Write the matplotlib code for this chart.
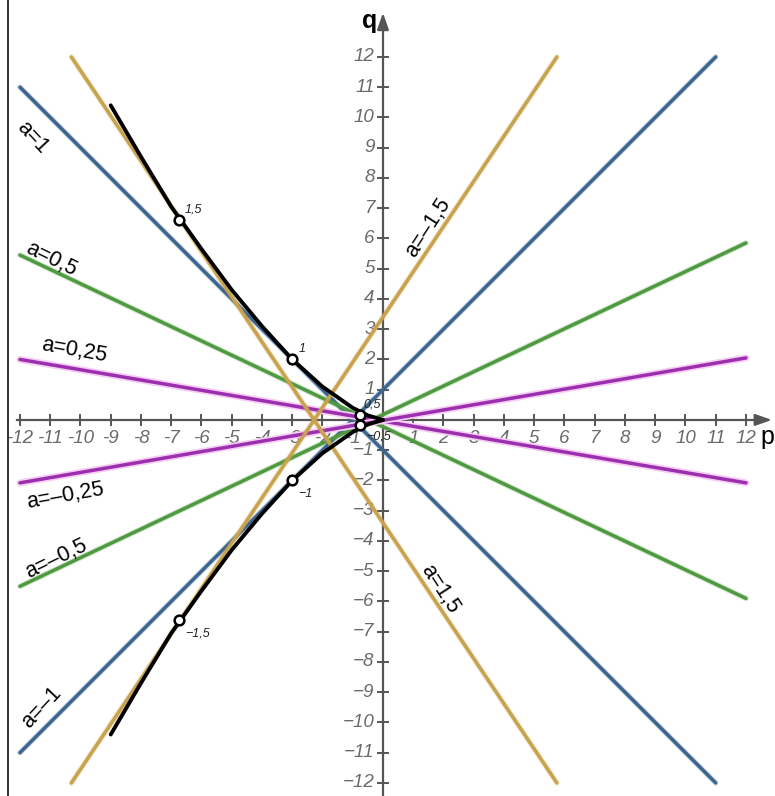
import numpy as np
import matplotlib.pyplot as plt
import matplotlib.patheffects as pe
from matplotlib.lines import Line2D

# line family: label, colour, start (p,q), end (p,q)
a_labels = ["1", "-1", "0,5", "-0,5", "0,25", "-0,25", "1,5", "-1,5"]
a_colors = ["#3c6690", "#3c6690", "#4f9a40", "#4f9a40",
            "#9b2fae", "#9b2fae", "#c9a24e", "#c9a24e"]
p_start = [-12.0, -12.0, -12.0, -12.0, -12.0, -12.0, -10.3, -10.3]
q_start = [11.0, -11.0, 5.45, -5.5, 2.0, -2.08, 12.0, -12.0]
p_end = [11.0, 11.0, 12.0, 12.0, 12.0, 12.0, 5.75, 5.75]
q_end = [-12.0, 12.0, -5.9, 5.85, -2.08, 2.05, -12.0, 12.0]

# envelope (upper branch), the lower one is its mirror
env_p = [-9.0, -8.0, -7.0, -6.0, -5.0, -4.0, -3.0, -2.0, -1.0, -0.5, 0.0]
env_q = [10.4, 8.7, 7.05, 5.65, 4.3, 3.1, 2.0, 1.1, 0.4, 0.15, 0.0]

# marked points on the envelope
mark_p = [-6.75, -3.0, -0.76, -0.76, -3.0, -6.75]
mark_q = [6.6, 2.0, 0.17, -0.17, -2.0, -6.6]
mark_txt = ["1,5", "1", "0,5", "\u22120,5", "\u22121", "\u22121,5"]

ticks = [t for t in range(-12, 13) if t != 0]

fig = plt.figure(figsize=(7.75, 7.96), dpi=100)
ax = fig.add_axes([0, 0, 1, 1])
ax.set_xlim(-12.66, 12.96)
ax.set_ylim(-12.43, 13.88)
ax.set_aspect("equal")
ax.axis("off")

font = "Liberation Sans"
axc = "#555555"

# axes with arrows
ax.plot([-12.1, 12.3], [0, 0], color=axc, lw=1.6, zorder=2)
ax.plot([0, 0], [-12.5, 12.9], color=axc, lw=1.6, zorder=2)
ax.annotate("", xy=(12.95, 0), xytext=(12.2, 0),
            arrowprops=dict(arrowstyle="-|>,head_width=0.35,head_length=1.0",
                            color=axc, lw=1.6), zorder=2)
ax.annotate("", xy=(0, 13.55), xytext=(0, 12.8),
            arrowprops=dict(arrowstyle="-|>,head_width=0.35,head_length=1.0",
                            color=axc, lw=1.6), zorder=2)
for t in ticks:
    ax.plot([t, t], [-0.17, 0.17], color=axc, lw=1.4, zorder=2)
    ax.plot([-0.17, 0.17], [t, t], color=axc, lw=1.4, zorder=2)
    ax.text(t, -0.6, str(t), ha="center", va="center", fontsize=13.5,
            style="italic", color="#6a6a6a", family=font, zorder=1)
    ax.text(-0.28, t, str(t).replace("-", "\u2212"), ha="right", va="center",
            fontsize=13.5, style="italic", color="#6a6a6a", family=font, zorder=1)
ax.text(12.72, -0.55, "p", fontsize=18, ha="center", va="center", family=font)
ax.text(-0.45, 13.2, "q", fontsize=18, ha="center", va="center",
        family=font, weight="bold")

# family of lines
for i in range(len(a_labels)):
    if "0,25" in a_labels[i]:
        effects = [pe.Stroke(linewidth=5, foreground="#f6cdf4"), pe.Normal()]
    else:
        effects = [pe.Stroke(linewidth=4.0, foreground=a_colors[i], alpha=0.25),
                   pe.Normal()]
    ax.plot([p_start[i], p_end[i]], [q_start[i], q_end[i]], color=a_colors[i],
            lw=2.5, solid_capstyle="round", zorder=3, path_effects=effects)

# line labels (centre p, centre q, angle)
lab_pos = {"1": (-11.6, 9.35, -47), "-1": (-11.3, -9.5, 47),
           "0,5": (-10.95, 5.3, -26), "-0,5": (-10.8, -4.6, 26),
           "0,25": (-10.2, 2.3, -10), "-0,25": (-10.5, -2.5, 10),
           "1,5": (1.9, -5.6, -57), "-1,5": (1.5, 6.35, 57)}
for lab in a_labels:
    x, y, r = lab_pos[lab]
    ax.text(x, y, "a=" + lab.replace("-", "\u2013"), rotation=r,
            rotation_mode="anchor", ha="center", va="center",
            fontsize=15.5, family=font, zorder=4)

# envelope
env_p = np.array(env_p)
env_q = np.array(env_q)
ax.plot(env_p, env_q, color="black", lw=2.8, zorder=5, solid_capstyle="round")
ax.plot(env_p, -env_q, color="black", lw=2.8, zorder=5, solid_capstyle="round")
ax.plot(mark_p, mark_q, "o", ms=7, mfc="white", mec="black", mew=1.8, zorder=6)

mark_off = [(0.2, 0.35), (0.2, 0.35), (0.1, 0.35), (0.2, -0.38),
            (0.2, -0.45), (0.2, -0.45)]
for i in range(len(mark_txt)):
    ax.text(mark_p[i] + mark_off[i][0], mark_q[i] + mark_off[i][1], mark_txt[i],
            fontsize=9, style="italic", family=font, color="#222222",
            ha="left", va="center", zorder=7)

# frame line on the left edge
fig.add_artist(Line2D([8 / 775, 8 / 775], [0, 1], color="#222222", lw=1.3))

fig.savefig("out.png", dpi=100)
